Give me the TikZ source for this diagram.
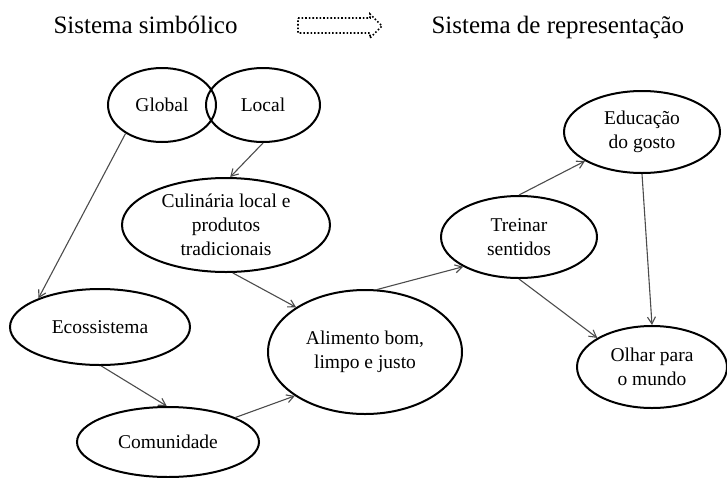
\documentclass[tikz,border=0pt]{standalone}
\usepackage{fontspec}
\setmainfont{Liberation Serif}
\usepackage{tikz}
\usetikzlibrary{shapes.geometric}
\usetikzlibrary{arrows.meta}

\tikzset{
    idea/.style={ellipse,draw,line width=2pt,inner sep=0pt,align=center,font=\fontsize{19.5}{24}\selectfont},
    link/.style={-{Straight Barb[length=7pt,width=8pt]},line width=1.1pt,draw=black!70},
    head/.style={anchor=base west,font=\fontsize{25}{30}\selectfont}
}

\begin{document}
\begin{tikzpicture}[x=1pt,y=-1pt]
        \useasboundingbox (0,0) rectangle (727,477);
        % top line
        \node[head] (simb) at (50,33) {Sistema simbólico};
        \node[head] (repr) at (428,33) {Sistema de representação};
        \draw[dotted,line width=1.6pt] (298,18)--(370,18)--(370,14)--(382,26)--(370,38)--(370,33)--(298,33)--cycle;
        % ideas
        \node[idea,minimum width=108pt,minimum height=74pt] (glob) at (162,105) {Global};
        \node[idea,minimum width=114pt,minimum height=74pt] (loc) at (263,105) {Local};
        \node[idea,minimum width=208pt,minimum height=94pt] (culi) at (226,225) {Culinária local e\\produtos\\tradicionais};
        \node[idea,minimum width=180pt,minimum height=76pt] (eco) at (100,327) {Ecossistema};
        \node[idea,minimum width=182pt,minimum height=70pt] (comu) at (168,442) {Comunidade};
        \node[idea,minimum width=194pt,minimum height=124pt] (alim) at (365,352) {Alimento bom,\\limpo e justo};
        \node[idea,minimum width=156pt,minimum height=82pt] (trei) at (519,237) {Treinar\\sentidos};
        \node[idea,minimum width=156pt,minimum height=82pt] (educ) at (642,132) {Educação\\do gosto};
        \node[idea,minimum width=150pt,minimum height=82pt] (olha) at (652,367) {Olhar para\\o mundo};
        % links
        \draw[link] (glob.218)--(eco.155);
        \draw[link] (loc.270)--(culi.85);
        \draw[link] (culi.278)--(alim.147);
        \draw[link] (eco.272)--(comu.92);
        \draw[link] (comu.20)--(alim.212);
        \draw[link] (alim.79)--(trei.208);
        \draw[link] (trei.90)--(educ.207);
        \draw[link] (trei.270)--(olha.152);
        \draw[link] (educ.270)--(olha.90);
    \end{tikzpicture}
\end{document}
